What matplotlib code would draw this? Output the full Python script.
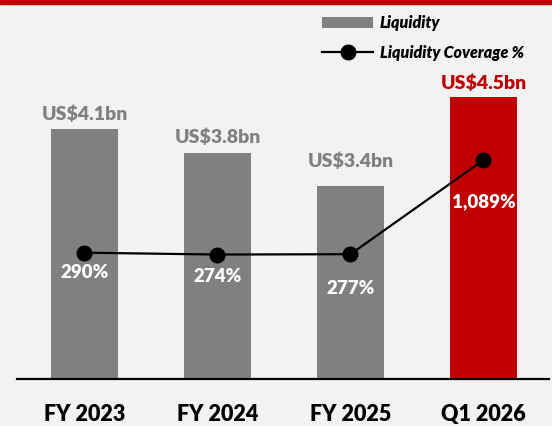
import matplotlib.pyplot as plt
from matplotlib.patches import Rectangle

# Data
periods = ["FY 2023", "FY 2024", "FY 2025", "Q1 2026"]
liquidity = [4.1, 3.8, 3.4, 4.5]          # US$ bn
coverage = [290, 274, 277, 1089]          # %
liq_labels = ["US$4.1bn", "US$3.8bn", "US$3.4bn", "US$4.5bn"]
cov_labels = ["290%", "274%", "277%", "1,089%"]

gray = "#808080"
red = "#C00000"
bg = "#F2F2F2"
bar_colors = [gray, gray, gray, red]
liq_text_colors = [gray, gray, gray, red]

# label offsets in pixels (hand placed like the original slide)
liq_off = [15, 16, 24, 14]
cov_off = [20, 22, 34, 42]

plt.rcParams['font.family'] = ['Lato', 'DejaVu Sans']
W = "heavy"

fig = plt.figure(figsize=(5.52, 4.26), dpi=100, facecolor=bg)
fig.patches.append(Rectangle((0, 1 - 3.5 / 426), 1, 3.5 / 426, transform=fig.transFigure,
                             color=red, zorder=0))

ax = fig.add_axes([17 / 552, 47 / 426, 532 / 552, 369 / 426])
ax.set_facecolor(bg)
x = range(len(periods))
bars = ax.bar(x, liquidity, width=0.504, color=bar_colors, label="Liquidity", zorder=2)
ax.set_xlim(-0.5075, 3.4925)
ax.set_ylim(1.0, 5.578)
ax.set_yticks([])
ax.set_xticks(list(x))
ax.set_xticklabels(periods, fontsize=15.5, fontweight=W)
ax.tick_params(axis="x", length=0, pad=18)
for s in ["top", "left", "right"]:
    ax.spines[s].set_visible(False)
ax.spines["bottom"].set_linewidth(1.6)

for i, v in enumerate(liquidity):
    ax.annotate(liq_labels[i], (i, v), xytext=(0, liq_off[i]), textcoords="offset pixels",
                ha="center", va="center", fontsize=14, fontweight=W,
                color=liq_text_colors[i])

ax2 = ax.twinx()
ax2.set_ylim(-798.8, 2382)
ax2.axis("off")
ax2.plot(x, coverage, color="black", lw=1.6, marker="o", markersize=10.5,
         label="Liquidity Coverage %", zorder=3)
for i, v in enumerate(coverage):
    ax2.annotate(cov_labels[i], (i, v), xytext=(0, -cov_off[i]), textcoords="offset pixels",
                 ha="center", va="center", fontsize=13.5, fontweight=W, color="white")

h1, l1 = ax.get_legend_handles_labels()
h2, l2 = ax2.get_legend_handles_labels()
leg = fig.legend(h1 + h2, l1 + l2, loc="upper left", bbox_to_anchor=(308 / 552, 1 - 1 / 426),
                 frameon=False, handlelength=3.2, handleheight=0.7, labelspacing=0.85,
                 handletextpad=0.4, prop={"style": "italic", "weight": W, "size": 11.5})

fig.savefig("out.png", dpi=100, facecolor=bg)
